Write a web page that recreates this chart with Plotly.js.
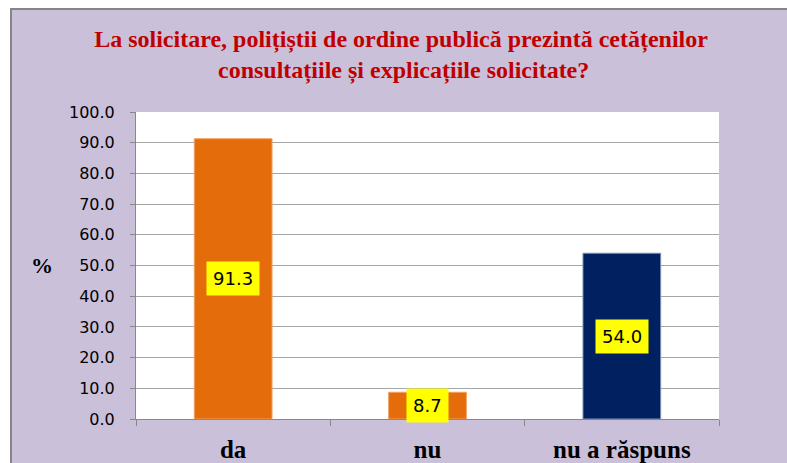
<!DOCTYPE html>
<html>
<head>
<meta charset="utf-8">
<script src="https://cdn.plot.ly/plotly-3.0.1.min.js"></script>
<style>
  html, body { margin: 0; padding: 0; background: #ffffff; }
  #frame { position: absolute; left: 10px; top: 8px; width: 777px; height: 455px;
           border-left: 2px solid #858585; border-top: 2px solid #858585; box-sizing: border-box; }
  #chart { width: 775px; height: 453px; }
</style>
</head>
<body>
<div id="frame"><div id="chart"></div></div>
<script>
const categories = ["da", "nu", "nu a răspuns"];
const values = [91.3, 8.7, 54.0];
const barColors = ["#E46C0A", "#E46C0A", "#002060"];
const tickVals = [0, 10, 20, 30, 40, 50, 60, 70, 80, 90, 100];
const tickText = tickVals.map(v => v.toFixed(1));
const titleLine1 = "La solicitare, polițiștii de ordine publică prezintă cetățenilor";
const titleLine2 = "consultațiile și explicațiile solicitate?";
const yLabel = "%";
const SERIF = "Liberation Serif";

const trace = {
  type: "bar",
  x: categories,
  y: values,
  marker: { color: barColors, line: { color: ["#F2A060", "#F2A060", "#7F93B8"], width: 1 } },
  hoverinfo: "skip"
};

const annotations = categories.map((c, i) => ({
  x: c, y: values[i] / 2, xref: "x", yref: "y",
  text: values[i].toFixed(1), showarrow: false,
  bgcolor: "#FFFF00", borderpad: 6,
  font: { family: "DejaVu Sans", size: 18, color: "#000000" }
}));
annotations.push({
  xref: "paper", yref: "paper", x: -0.161, y: 0.5, xanchor: "center", yanchor: "middle",
  text: yLabel, showarrow: false,
  font: { family: SERIF, size: 22, color: "#000000", weight: "bold" }
});
annotations.push({
  xref: "paper", yref: "paper", x: 0.459, y: 1.0 + 41 / 307,
  xanchor: "center", yanchor: "middle",
  text: titleLine2, showarrow: false,
  font: { family: SERIF, size: 24, color: "#C00000", weight: "bold" }
});

const layout = {
  width: 775, height: 453,
  paper_bgcolor: "#CBC0DA",
  plot_bgcolor: "#FFFFFF",
  margin: { l: 124, r: 68, t: 102, b: 44 },
  showlegend: false,
  bargap: 0.6,
  title: {
    text: titleLine1,
    x: 0.502, xref: "container", xanchor: "center",
    y: 1 - 29 / 453, yref: "container", yanchor: "middle",
    font: { family: SERIF, size: 24, color: "#C00000", weight: "bold" }
  },
  xaxis: {
    type: "category",
    showline: true, linecolor: "#888888", linewidth: 1,
    ticks: "outside", tickson: "boundaries", ticklen: 6, tickcolor: "#888888",
    tickfont: { family: SERIF, size: 25, color: "#000000", weight: "bold" },
    ticklabelstandoff: 8,
    showgrid: false
  },
  yaxis: {
    range: [0, 100],
    tickvals: tickVals, ticktext: tickText,
    showline: true, linecolor: "#888888", linewidth: 1,
    ticks: "outside", ticklen: 5, tickcolor: "#888888",
    showgrid: true, gridcolor: "#A6A6A6", gridwidth: 1,
    zeroline: false,
    tickfont: { family: "DejaVu Sans", size: 16, color: "#000000" },
    ticklabelstandoff: 12
  },
  annotations: annotations
};

Plotly.newPlot("chart", [trace], layout, { displayModeBar: false, staticPlot: true });
</script>
</body>
</html>
